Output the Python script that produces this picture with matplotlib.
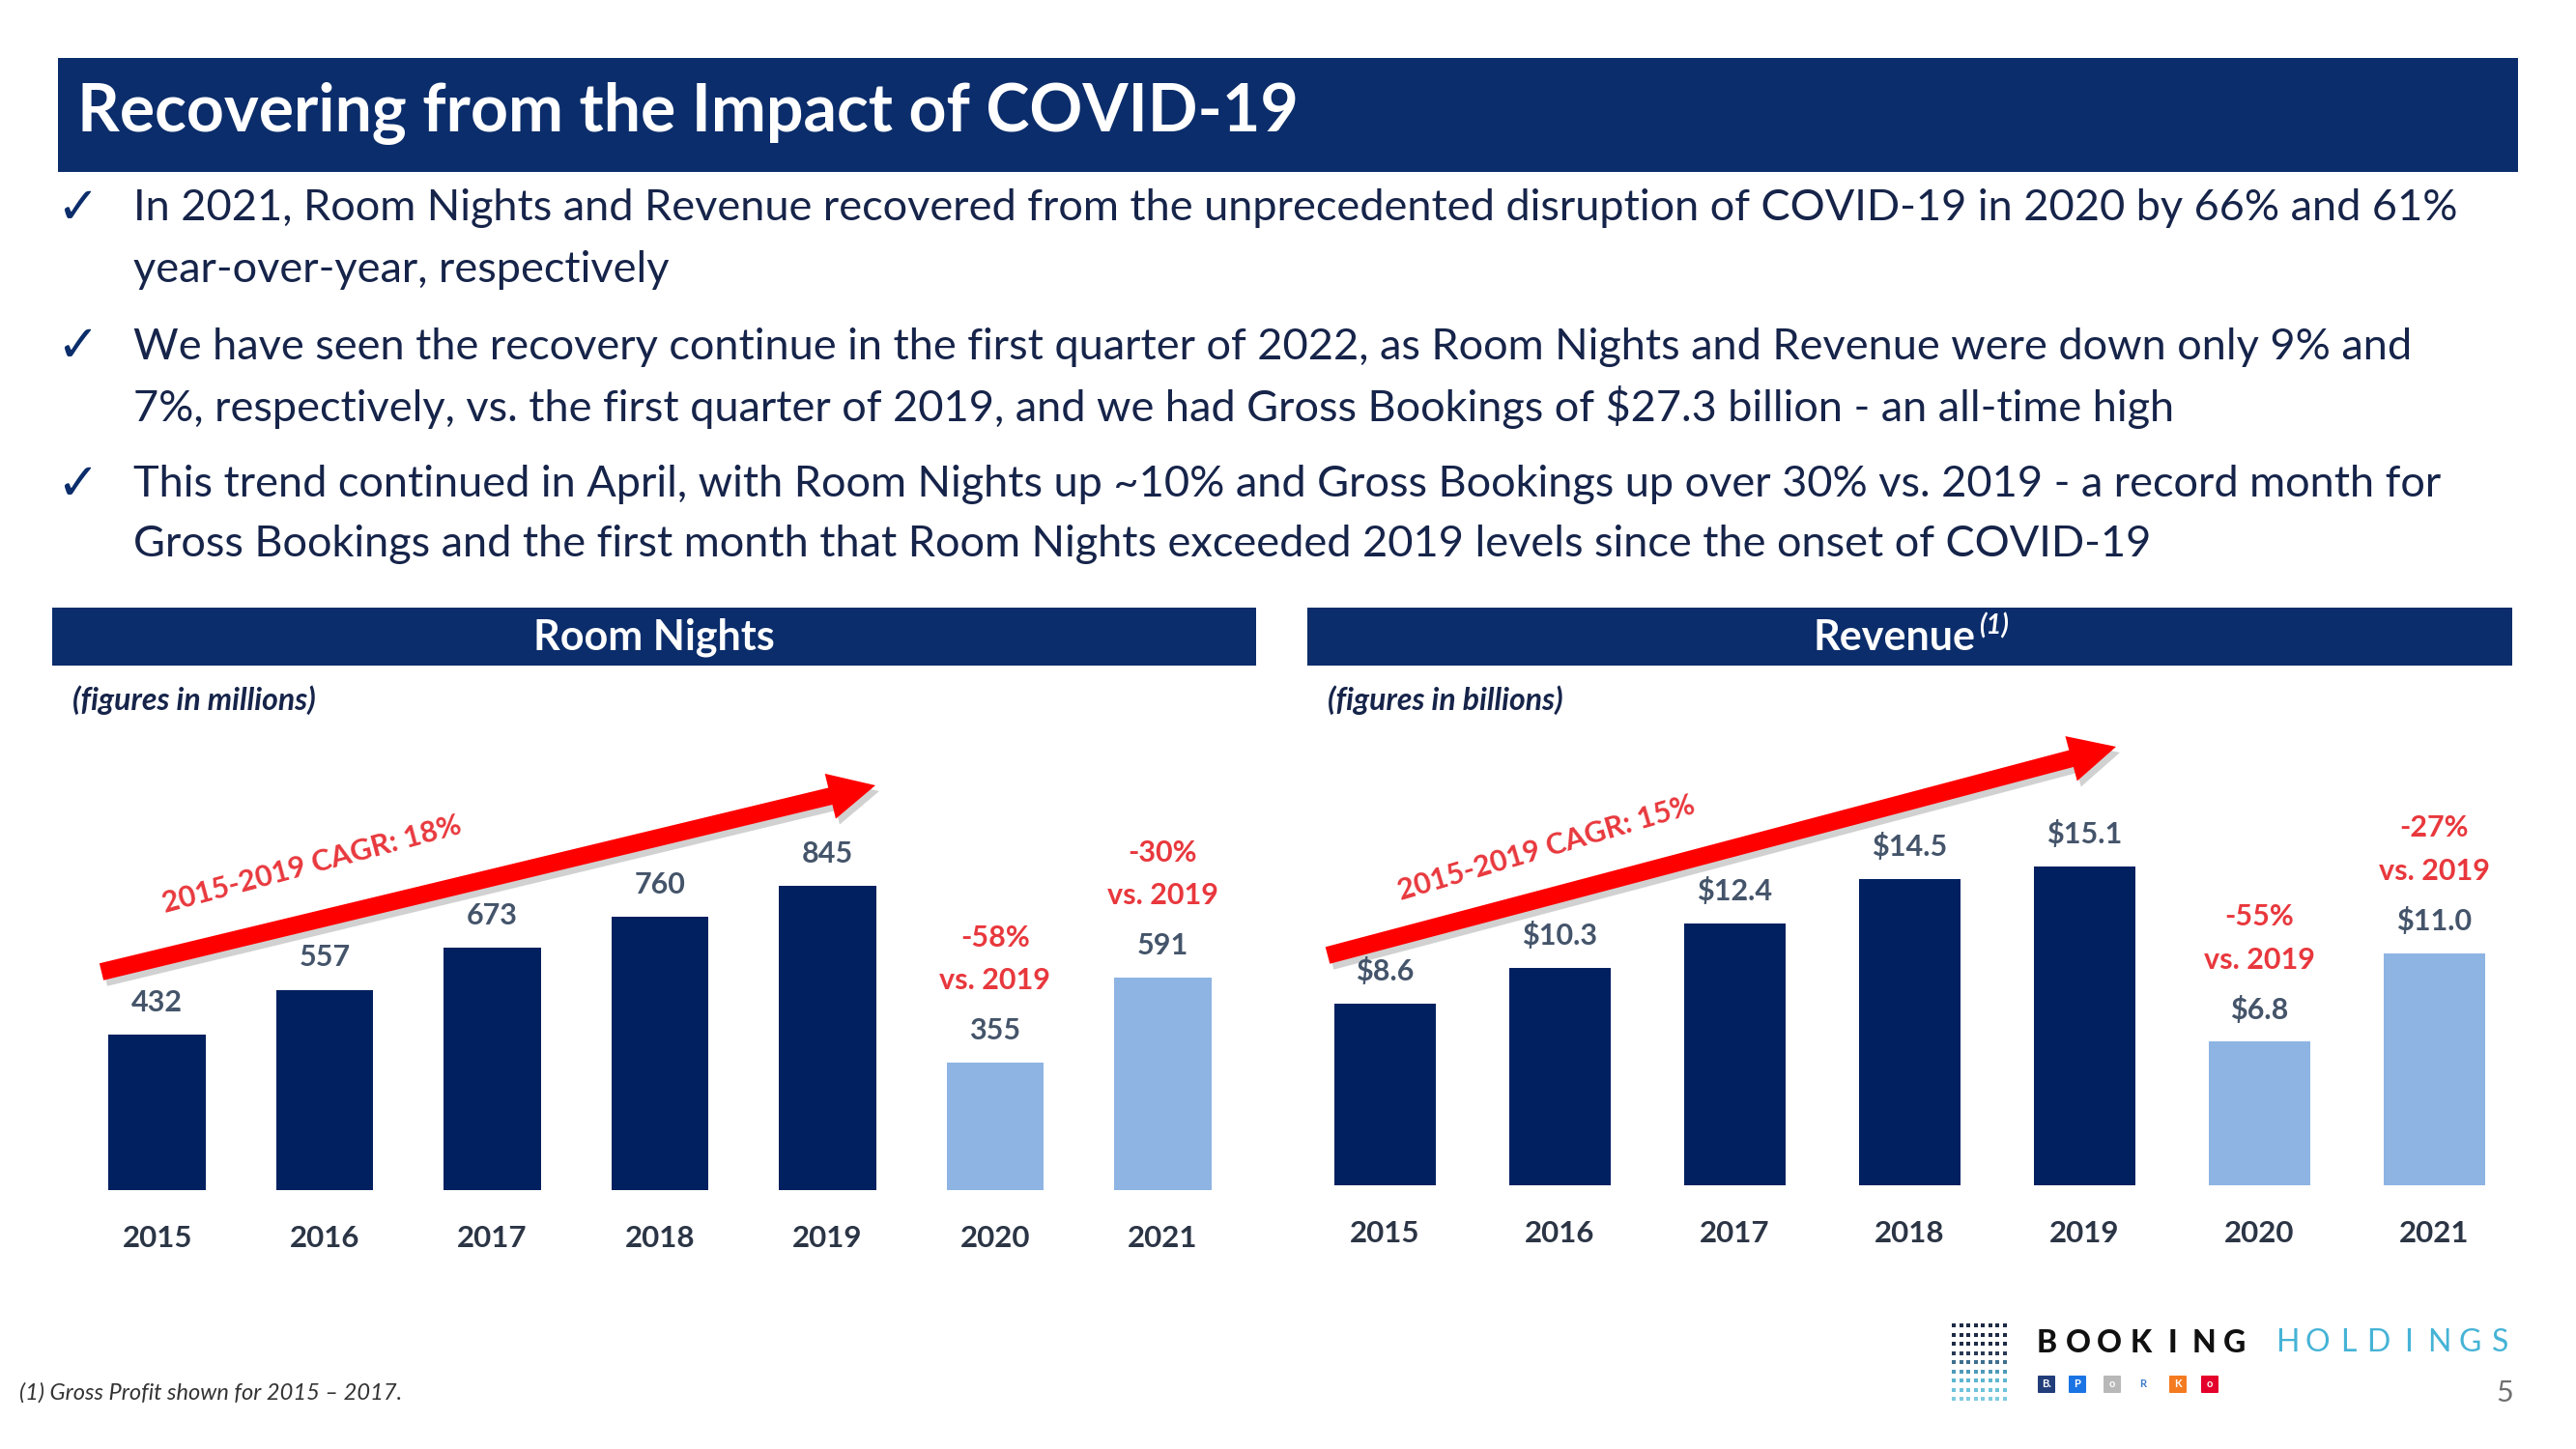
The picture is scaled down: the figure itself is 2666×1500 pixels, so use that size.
import numpy as np
import matplotlib.pyplot as plt
from matplotlib.patches import Rectangle, FancyArrow, FancyBboxPatch

# ---------------------------- data ----------------------------
years = ['2015', '2016', '2017', '2018', '2019', '2020', '2021']
room_nights = [432, 557, 673, 760, 845, 355, 591]
room_labels = ['432', '557', '673', '760', '845', '355', '591']
revenue = [8.6, 10.3, 12.4, 14.5, 15.1, 6.8, 11.0]
revenue_labels = ['$8.6', '$10.3', '$12.4', '$14.5', '$15.1', '$6.8', '$11.0']
covid = [False, False, False, False, False, True, True]
room_vs_2019 = ['', '', '', '', '', '-58%', '-30%']
revenue_vs_2019 = ['', '', '', '', '', '-55%', '-27%']
room_cagr = '2015-2019 CAGR: 18%'
revenue_cagr = '2015-2019 CAGR: 15%'

bullets = [
    ['In 2021, Room Nights and Revenue recovered from the unprecedented disruption of COVID-19 in 2020 by 66% and 61%',
     'year-over-year, respectively'],
    ['We have seen the recovery continue in the first quarter of 2022, as Room Nights and Revenue were down only 9% and',
     '7%, respectively, vs. the first quarter of 2019, and we had Gross Bookings of $27.3 billion - an all-time high'],
    ['This trend continued in April, with Room Nights up ~10% and Gross Bookings up over 30% vs. 2019 - a record month for',
     'Gross Bookings and the first month that Room Nights exceeded 2019 levels since the onset of COVID-19'],
]

NAVY = '#0B2D6B'
DARK_BAR = '#002060'
LIGHT_BAR = '#8EB4E3'
RED = '#E8383D'
VAL = '#44546A'
YEAR = '#2B3545'
TEXT = '#16244A'

plt.rcParams['font.family'] = ['Lato', 'DejaVu Sans']

W, H = 2666, 1500
fig = plt.figure(figsize=(W / 100, H / 100), dpi=100)


def rect(left, top, width, height):
    return [left / W, 1 - (top + height) / H, width / W, height / H]


# overlay in pixel coordinates (y down) for slide decorations
ov = fig.add_axes([0, 0, 1, 1])
ov.set_xlim(0, W)
ov.set_ylim(H, 0)
ov.axis('off')

# title bar
ov.add_patch(Rectangle((60, 60), 2546, 118, color=NAVY, lw=0))
ov.text(80, 118, 'Recovering from the Impact of COVID-19', color='white',
        fontsize=49, fontweight='bold', va='center', ha='left')

# bullets
line_y = [216, 279, 359, 422, 502, 564]
k = 0
for b in bullets:
    ov.text(80, line_y[k], '\u2713', fontsize=38, color=NAVY, family='DejaVu Sans',
            ha='center', va='center')
    for line in b:
        ov.text(138, line_y[k], line, fontsize=32.5, color=TEXT, ha='left', va='center')
        k += 1

# panel headers
ov.add_patch(Rectangle((54, 629), 1246, 60, color=NAVY, lw=0))
ov.add_patch(Rectangle((1353, 629), 1247, 60, color=NAVY, lw=0))
ov.text(677, 660, 'Room Nights', color='white', fontsize=31, fontweight='bold',
        ha='center', va='center')
ov.text(2045, 660, 'Revenue', color='white', fontsize=31, fontweight='bold',
        ha='right', va='center')
ov.text(2048, 648, '(1)', color='white', fontsize=20, fontweight='bold',
        style='italic', ha='left', va='center')
ov.text(75, 725, '(figures in millions)', color=TEXT, fontsize=23,
        fontweight='bold', style='italic', ha='left', va='center')
ov.text(1374, 725, '(figures in billions)', color=TEXT, fontsize=23,
        fontweight='bold', style='italic', ha='left', va='center')

# CAGR arrows
for (x0, y0, x1, y1) in [(105, 1006, 906, 813), (1374, 989, 2190, 773)]:
    ov.add_patch(FancyArrow(x0 + 4, y0 + 6, x1 - x0, y1 - y0, width=18, head_width=48,
                            head_length=48, length_includes_head=True,
                            color='#9A9A9A', alpha=0.45, lw=0))
    ov.add_patch(FancyArrow(x0, y0, x1 - x0, y1 - y0, width=18, head_width=48,
                            head_length=48, length_includes_head=True,
                            color='#FF0000', lw=0))
ov.text(323, 895, room_cagr, color=RED, fontsize=22, fontweight='bold',
        rotation=15, ha='center', va='center', rotation_mode='anchor')
ov.text(1600, 878, revenue_cagr, color=RED, fontsize=22, fontweight='bold',
        rotation=16.5, ha='center', va='center', rotation_mode='anchor')

# footnote
ov.text(20, 1442, '(1) Gross Profit shown for 2015 \u2013 2017.', color='#333333',
        fontsize=17, style='italic', ha='left', va='center')

# logo
gx = np.arange(8) * 7.5 + 2022
gy = np.arange(9) * 9.5 + 1372
dot_cols = ['#1E2B45', '#1E2B45', '#1E2B45', '#2A3A55', '#3E6F8E',
            '#4E9AB8', '#5DB6D0', '#6EC3DB', '#7FCBE0']
for r, yy in enumerate(gy):
    ov.scatter(gx, np.full(8, yy), s=9, marker='s', color=dot_cols[r], lw=0)
for i, ch in enumerate('BOOKING'):
    ov.text(2118 + i * 32.5, 1390, ch, fontsize=23, fontweight='black',
            color='#111111', ha='center', va='center')
for i, ch in enumerate('HOLDINGS'):
    ov.text(2367 + i * 31.5, 1390, ch, fontsize=23, fontweight='normal',
            color='#45B3D6', ha='center', va='center')
icons = [(2118, '#213D7A', 'B.'), (2150, '#1B74E4', 'P'), (2186, '#B8B8B8', 'o'),
         (2218, '#FFFFFF', 'R'), (2254, '#F47B20', 'K'), (2287, '#E4002B', 'o')]
for x, c, t in icons:
    ov.add_patch(FancyBboxPatch((x - 8, 1425), 16, 16, boxstyle='round,pad=1',
                                color=c, lw=0))
    tc = '#3D7CC9' if c == '#FFFFFF' else 'white'
    ov.text(x, 1433, t, fontsize=8, fontweight='bold', color=tc,
            ha='center', va='center')
ov.text(2592, 1442, '5', fontsize=22, color='#6F6F6F', fontweight='normal',
        ha='center', va='center')


# ---------------------------- bar charts ----------------------------
def bar_panel(pos, values, labels, vs_labels, ymax):
    ax = fig.add_axes(pos)
    ax.patch.set_alpha(0)
    x = np.arange(len(years))
    colors = [LIGHT_BAR if c else DARK_BAR for c in covid]
    ax.bar(x, values, width=0.58, color=colors, lw=0)
    ax.set_xlim(-0.5, len(years) - 0.5)
    ax.set_ylim(0, ymax)
    ax.set_xticks(x)
    ax.set_xticklabels(years, fontsize=22.5, fontweight='bold', color=YEAR)
    ax.tick_params(axis='x', length=0, pad=26)
    ax.set_yticks([])
    for s in ax.spines.values():
        s.set_visible(False)
    for i, v in enumerate(values):
        ax.annotate(labels[i], (x[i], v), xytext=(0, 24), textcoords='offset points',
                    ha='center', va='center', fontsize=22, fontweight='bold',
                    color=VAL, annotation_clip=False)
        if vs_labels[i]:
            ax.annotate('vs. 2019', (x[i], v), xytext=(0, 61), textcoords='offset points',
                        ha='center', va='center', fontsize=22, fontweight='bold',
                        color=RED, annotation_clip=False)
            ax.annotate(vs_labels[i], (x[i], v), xytext=(0, 93), textcoords='offset points',
                        ha='center', va='center', fontsize=22, fontweight='bold',
                        color=RED, annotation_clip=False)
    return ax


bar_panel(rect(76, 1232 - 372.3, 1214, 372.3), room_nights, room_labels, room_vs_2019, 1000)
bar_panel(rect(1342.6, 1227 - 393.3, 1267, 393.3), revenue, revenue_labels, revenue_vs_2019, 18)

fig.savefig('out.png', dpi=100)
